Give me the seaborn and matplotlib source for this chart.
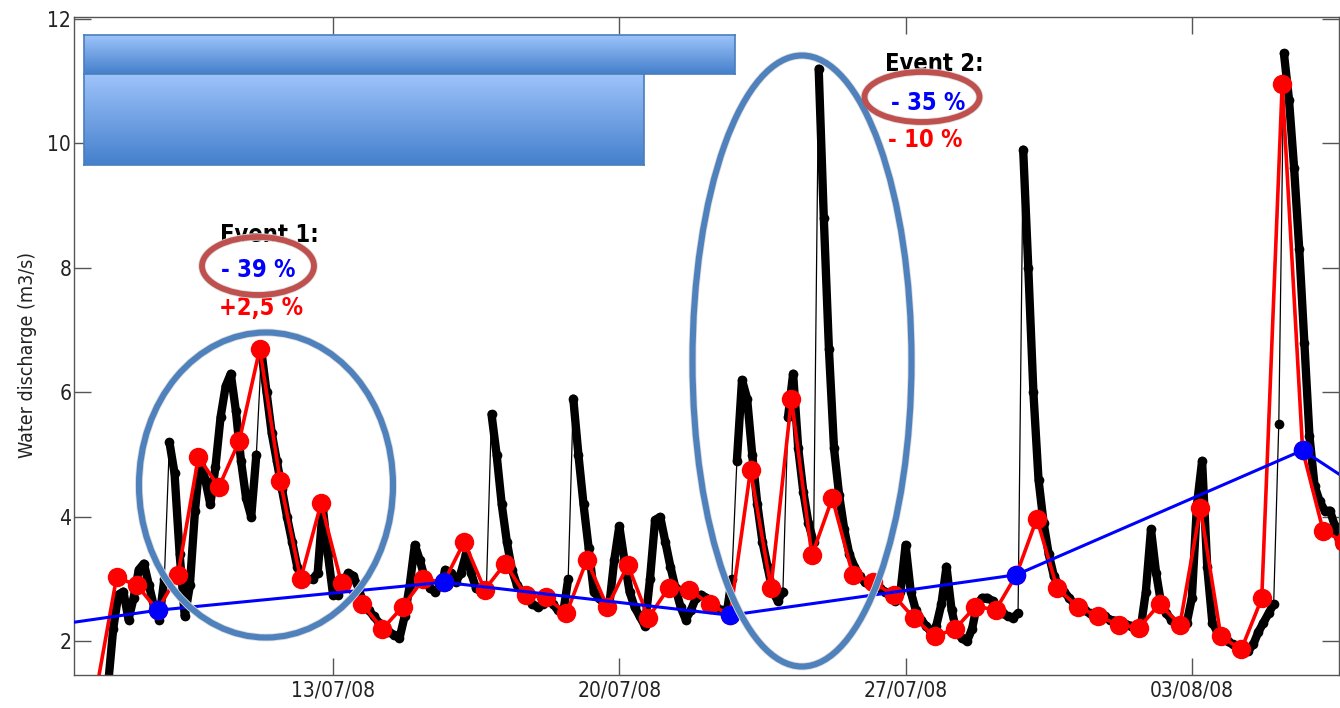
import numpy as np
import pandas as pd
import matplotlib
matplotlib.use("Agg")
import matplotlib.pyplot as plt
from matplotlib.patches import Ellipse
from matplotlib.colors import LinearSegmentedColormap
import seaborn as sns

# high frequency discharge, one value every 3 h from 07/07/08 12:00
black_start = "2008-07-07 12:00"
black_q = [1.3, 2.2, 2.75, 2.8, 2.35, 2.7, 3.15, 3.25, 2.9, 2.55,
           2.35, 3.0, 5.2, 4.7, 3.4, 2.4, 2.9, 4.1, 4.95, 4.6,
           4.2, 4.8, 5.6, 6.1, 6.3, 5.7, 4.9, 4.3, 4.0, 5.0,
           6.65, 6.0, 5.35, 4.9, 4.45, 4.0, 3.6, 3.2, 3.0, 3.0,
           3.0, 3.1, 4.15, 3.4, 2.75, 2.75, 2.95, 3.1, 3.05, 2.85,
           2.6, 2.5, 2.4, 2.3, 2.2, 2.15, 2.1, 2.05, 2.4, 2.9,
           3.55, 3.3, 3.0, 2.85, 2.8, 2.9, 3.15, 3.1, 2.95, 3.1,
           3.4, 3.1, 2.85, 2.8, 2.85, 5.65, 5.0, 4.2, 3.6, 3.15,
           2.9, 2.8, 2.7, 2.6, 2.55, 2.6, 2.7, 2.6, 2.5, 2.45,
           3.0, 5.9, 5.0, 4.2, 3.5, 2.8, 2.7, 2.6, 2.55, 3.3,
           3.85, 3.3, 2.8, 2.55, 2.4, 2.25, 3.0, 3.95, 4.0, 3.6,
           3.2, 2.85, 2.55, 2.35, 2.5, 2.7, 2.75, 2.7, 2.6, 2.55,
           2.5, 2.45, 3.0, 4.9, 6.2, 5.9, 5.0, 4.2, 3.6, 3.2,
           2.8, 2.65, 2.8, 5.6, 6.3, 5.1, 4.4, 3.9, 3.6, 11.2,
           8.8, 6.7, 5.1, 4.35, 3.8, 3.4, 3.2, 3.05, 2.95, 2.9,
           2.9, 2.85, 2.8, 2.75, 2.65, 2.8, 3.55, 2.8, 2.5, 2.35,
           2.25, 2.15, 2.25, 2.6, 3.2, 2.5, 2.15, 2.05, 2.0, 2.2,
           2.6, 2.7, 2.7, 2.65, 2.55, 2.45, 2.4, 2.38, 2.45, 9.9,
           8.0, 6.0, 4.6, 3.9, 3.4, 3.05, 2.9, 2.8, 2.7, 2.6,
           2.55, 2.5, 2.45, 2.45, 2.4, 2.4, 2.35, 2.33, 2.3, 2.28,
           2.25, 2.23, 2.22, 2.8, 3.8, 3.1, 2.6, 2.45, 2.35, 2.25,
           2.22, 2.3, 2.7, 4.2, 4.9, 3.2, 2.3, 2.15, 2.05, 2.0,
           1.95, 1.9, 1.88, 1.85, 1.95, 2.15, 2.3, 2.45, 2.6, 5.5,
           11.45, 10.7, 9.6, 8.3, 6.8, 5.3, 4.5, 4.25, 4.1, 4.1,
           3.85, 3.55, 3.4]

# twice-daily samples from 07/07/08 05:00
red_start = "2008-07-07 05:00"
red_q = [1.2, 3.03, 2.9, 2.5, 3.07, 4.96, 4.48, 5.22, 6.7, 4.58,
         3.0, 4.22, 2.93, 2.6, 2.2, 2.56, 3.0, 2.95, 3.6, 2.83,
         3.25, 2.74, 2.71, 2.45, 3.31, 2.55, 3.23, 2.38, 2.86, 2.83,
         2.6, 2.42, 4.75, 2.86, 5.89, 3.38, 4.3, 3.07, 2.95, 2.74,
         2.37, 2.08, 2.2, 2.56, 2.51, 3.07, 3.97, 2.85, 2.56, 2.4,
         2.27, 2.22, 2.6, 2.27, 4.14, 2.08, 1.87, 2.69, 10.95, 5.07,
         3.78, 3.6]

# weekly samples from 01/07/08 17:00
blue_start = "2008-07-01 17:00"
blue_q = [1.84, 2.5, 2.95, 2.42, 3.07, 5.07, 2.05]

x_ticks = ["13/07/08", "20/07/08", "27/07/08", "03/08/08"]
y_ticks = [2, 4, 6, 8, 10, 12]

black_t = pd.date_range(black_start, periods=len(black_q), freq="3h")
red_t = pd.date_range(red_start, periods=len(red_q), freq="12h")
blue_t = pd.date_range(blue_start, periods=len(blue_q), freq="7D")

W, H = 1340, 708


def fx(px):
    return px / W


def fy(py):
    return 1 - py / H


sns.set_style("ticks")
plt.rcParams['font.family'] = ['DejaVu Sans']
plt.rcParams['font.stretch'] = 'condensed'

fig = plt.figure(figsize=(13.4, 7.08), dpi=100)
ax = fig.add_axes([fx(74), fy(675), (1339 - 74) / W, (675 - 17) / H])

# thick band for the dense record, broken on the very fast rises
bt, bq = [], []
for i in range(len(black_q)):
    if i > 0 and black_q[i] - black_q[i - 1] > 1.5:
        bt.append(black_t[i - 1] + (black_t[i] - black_t[i - 1]) / 2)
        bq.append(np.nan)
    bt.append(black_t[i])
    bq.append(black_q[i])
ax.plot(bt, bq, color='black', linewidth=6, solid_capstyle='round',
        solid_joinstyle='round', zorder=2)

sns.lineplot(x=black_t, y=black_q, ax=ax, color='black', linewidth=0.9,
             marker='o', markersize=7, markeredgewidth=0,
             estimator=None, sort=False, zorder=2)
sns.lineplot(x=red_t, y=red_q, ax=ax, color='#FF0000', linewidth=2.6,
             marker='o', markersize=14, markeredgewidth=0,
             estimator=None, sort=False, zorder=3)
sns.lineplot(x=blue_t, y=blue_q, ax=ax, color='#0000FF', linewidth=2.2,
             marker='o', markersize=14, markeredgewidth=0,
             estimator=None, sort=False, zorder=4)

ax.set_xlim(pd.Timestamp("2008-07-06 16:00"), pd.Timestamp("2008-08-06 14:20"))
ax.set_ylim(1.46, 12.03)
ax.set_xticks(pd.to_datetime(x_ticks, format="%d/%m/%y"))
ax.set_xticklabels(x_ticks)
ax.set_yticks(y_ticks)
ax.set_yticklabels([str(v) for v in y_ticks])
ax.tick_params(direction='in', length=12, width=1, top=True, right=True,
               color='#555555', labelcolor='#222222', labelsize=15)
ax.tick_params(axis='y', pad=2)
ax.tick_params(axis='x', pad=4)
for s in ax.spines.values():
    s.set_color('#555555')
    s.set_linewidth(1)
ax.set_xlabel("")
ax.set_ylabel("Water discharge (m3/s)", fontsize=14, color='#222222')
ax.yaxis.set_label_coords(-0.029, 0.486)

# blue gradient boxes
grad = LinearSegmentedColormap.from_list("boxgrad", ['#9DC3FA', '#4580CC'])
for x0, x1, y0, y1 in [(84, 735, 35, 74), (84, 644, 74, 165)]:
    bax = fig.add_axes([fx(x0), fy(y1), (x1 - x0) / W, (y1 - y0) / H])
    bax.imshow(np.linspace(0, 1, 100).reshape(-1, 1), cmap=grad, aspect='auto')
    bax.set_xticks([])
    bax.set_yticks([])
    for s in bax.spines.values():
        s.set_color('#4A7EBB')
        s.set_linewidth(1.2)
    bax.set_zorder(3)

# annotations
txt = [("Event 1:", 269, 242, 'black'), ("- 39 %", 258, 277, '#0000FF'),
       ("+2,5 %", 261, 315, '#FF0000'), ("Event 2:", 934, 71, 'black'),
       ("- 35 %", 928, 110, '#0000FF'), ("- 10 %", 925, 147, '#FF0000')]
for s, px, py, c in txt:
    fig.text(fx(px), fy(py), s, color=c, fontsize=17, fontweight='bold',
             ha='center', va='baseline', zorder=4)

ellipses = [(266, 485, 254, 305, '#4F81BD', 4.4), (802, 361, 219, 611, '#4F81BD', 4.4),
            (258, 266, 112, 58, '#C0504D', 4.2), (922, 97, 115, 50, '#C0504D', 4.2)]
for cx, cy, w, h, c, lw in ellipses:
    fig.add_artist(Ellipse((fx(cx), fy(cy)), w / W, h / H, transform=fig.transFigure,
                           fill=False, edgecolor='#dcdcdc', linewidth=lw + 1.2, zorder=5))
    fig.add_artist(Ellipse((fx(cx), fy(cy)), w / W, h / H, transform=fig.transFigure,
                           fill=False, edgecolor=c, linewidth=lw, zorder=6))

fig.savefig("out.png", dpi=100)
